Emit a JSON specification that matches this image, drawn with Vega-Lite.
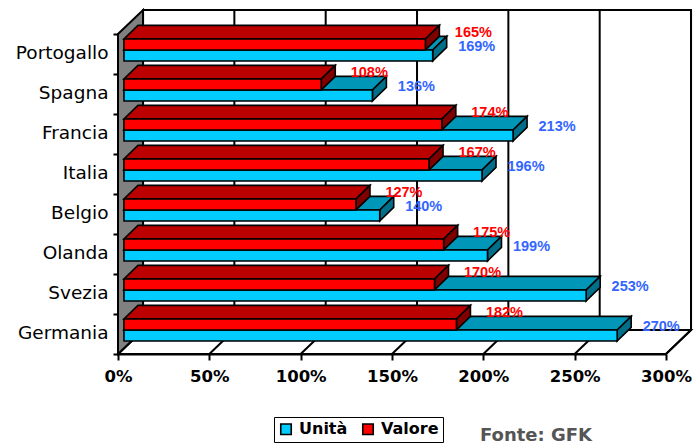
{"$schema":"https://vega.github.io/schema/vega-lite/v6.json","width":548,"height":320,"autosize":{"type":"none"},"padding":{"left":118,"top":34,"right":30,"bottom":91},"background":"white",
"title":{"text":"Fonte: GFK","orient":"bottom","anchor":"start","frame":"group","font":"DejaVu Sans","fontWeight":"bold","fontSize":18,"color":"#555555","dx":362,"dy":-16,"offset":0},
"datasets":{"bars":[
{"Paese":"Portogallo","Serie":"Unità","Valore":169},{"Paese":"Portogallo","Serie":"Valore","Valore":165},
{"Paese":"Spagna","Serie":"Unità","Valore":136},{"Paese":"Spagna","Serie":"Valore","Valore":108},
{"Paese":"Francia","Serie":"Unità","Valore":213},{"Paese":"Francia","Serie":"Valore","Valore":174},
{"Paese":"Italia","Serie":"Unità","Valore":196},{"Paese":"Italia","Serie":"Valore","Valore":167},
{"Paese":"Belgio","Serie":"Unità","Valore":140},{"Paese":"Belgio","Serie":"Valore","Valore":127},
{"Paese":"Olanda","Serie":"Unità","Valore":199},{"Paese":"Olanda","Serie":"Valore","Valore":175},
{"Paese":"Svezia","Serie":"Unità","Valore":253},{"Paese":"Svezia","Serie":"Valore","Valore":170},
{"Paese":"Germania","Serie":"Unità","Valore":270},{"Paese":"Germania","Serie":"Valore","Valore":182}],
"ticks":[{"v":0},{"v":50},{"v":100},{"v":150},{"v":200},{"v":250},{"v":300}],
"depth":[{"t":0},{"t":1}]},
"resolve":{"scale":{"y":"independent"},"axis":{"x":"independent","y":"independent"}},
"layer":[
{"data":{"name":"bars"},"transform":[{"filter":"datum.Serie=='Unità'"}],"mark":{"type":"bar","opacity":0},
"encoding":{"y":{"field":"Paese","type":"nominal","title":null,"scale":{"type":"band","paddingInner":0,"paddingOuter":0,"domain":["Portogallo","Spagna","Francia","Italia","Belgio","Olanda","Svezia","Germania"]},"axis":{"tickBand":"extent","domainColor":"black","domainWidth":2,"tickColor":"black","tickWidth":2,"tickSize":5,"labelPadding":5,"labelFont":"DejaVu Sans","labelFontSize":18.5,"labelColor":"black","labelOffset":-2,"grid":false}},
"x":{"field":"Valore","type":"quantitative","title":null,"scale":{"domain":[0,300],"nice":false,"zero":false},"axis":{"values":[0,50,100,150,200,250,300],"labelExpr":"datum.value+'%'","domainColor":"black","domainWidth":2,"tickColor":"black","tickWidth":2,"tickSize":6,"labelPadding":8,"labelFont":"DejaVu Sans","labelFontWeight":"bold","labelFontSize":16.5,"labelColor":"black","grid":false,"labelFlush":false,"labelOverlap":false}}}},
{"mark":{"type":"rect","fill":"white","stroke":"black","strokeWidth":2},"data":{"name":"depth"},"transform":[{"filter":"datum.t==0"}],
"encoding":{"x":{"datum":13.7,"axis":null},"x2":{"datum":313.7},"y":{"datum":0.6,"scale":{"domain":[0,8],"nice":false,"zero":false},"axis":null},"y2":{"datum":8.6}}},
{"data":{"name":"depth"},"transform":[{"calculate":"datum.t*13.7","as":"xa"},{"calculate":"300+datum.t*13.7","as":"xb"},{"calculate":"datum.t*0.6","as":"ya"}],"mark":{"type":"area","orient":"horizontal","fill":"white","stroke":"black","strokeWidth":2},
"encoding":{"x":{"field":"xa","type":"quantitative","axis":null},"x2":{"field":"xb"},"y":{"field":"ya","type":"quantitative","scale":{"domain":[0,8],"nice":false,"zero":false},"axis":null}}},
{"data":{"name":"ticks"},"transform":[{"calculate":"datum.v+13.7","as":"xb"}],"mark":{"type":"rule","color":"black","strokeWidth":2},
"encoding":{"x":{"field":"xb","type":"quantitative","axis":null},"y":{"datum":0.6,"scale":{"domain":[0,8],"nice":false,"zero":false},"axis":null},"y2":{"datum":8.6}}},
{"data":{"name":"ticks"},"transform":[{"calculate":"datum.v+13.7","as":"xb"}],"mark":{"type":"rule","color":"black","strokeWidth":2},
"encoding":{"x":{"field":"v","type":"quantitative","axis":null},"x2":{"field":"xb"},"y":{"datum":0,"scale":{"domain":[0,8],"nice":false,"zero":false},"axis":null},"y2":{"datum":0.6}}},
{"data":{"name":"depth"},"transform":[{"calculate":"datum.t*13.7","as":"xa"},{"calculate":"datum.t*0.6","as":"ya"},{"calculate":"8+datum.t*0.6","as":"yb"}],"mark":{"type":"area","orient":"vertical","fill":"#808080","stroke":"black","strokeWidth":2},
"encoding":{"x":{"field":"xa","type":"quantitative","axis":null},"y":{"field":"ya","type":"quantitative","scale":{"domain":[0,8],"nice":false,"zero":false},"axis":null},"y2":{"field":"yb"}}},

{"data":{"name":"bars"},"transform":[{"filter":"datum.Serie=='Unità'"},{"calculate":"indexof(['Germania','Svezia','Olanda','Belgio','Italia','Francia','Spagna','Portogallo'],datum.Paese)","as":"i"},{"calculate":"[0,1]","as":"t"},{"flatten":["t"]},{"calculate":"3.28+datum.t*7.66","as":"xa"},{"calculate":"datum.Valore+3.28+datum.t*7.66","as":"xb"},{"calculate":"datum.i+0.6+datum.t*0.34","as":"ya"}],"mark":{"type":"area","orient":"horizontal","fill":"#0096B8","stroke":"black","strokeWidth":1.6},
"encoding":{"detail":{"field":"Paese"},"x":{"field":"xa","type":"quantitative","axis":null},"x2":{"field":"xb"},"y":{"field":"ya","type":"quantitative","scale":{"domain":[0,8],"nice":false,"zero":false},"axis":null}}},
{"data":{"name":"bars"},"transform":[{"filter":"datum.Serie=='Unità'"},{"calculate":"indexof(['Germania','Svezia','Olanda','Belgio','Italia','Francia','Spagna','Portogallo'],datum.Paese)","as":"i"},{"calculate":"[0,1]","as":"t"},{"flatten":["t"]},{"calculate":"datum.Valore+3.28+datum.t*7.66","as":"xa"},{"calculate":"datum.i+0.325+datum.t*0.34","as":"ya"},{"calculate":"datum.i+0.6+datum.t*0.34","as":"yb"}],"mark":{"type":"area","orient":"vertical","fill":"#006F8A","stroke":"black","strokeWidth":1.6},
"encoding":{"detail":{"field":"Paese"},"x":{"field":"xa","type":"quantitative","axis":null},"y":{"field":"ya","type":"quantitative","scale":{"domain":[0,8],"nice":false,"zero":false},"axis":null},"y2":{"field":"yb"}}},
{"data":{"name":"bars"},"transform":[{"filter":"datum.Serie=='Valore'"},{"calculate":"indexof(['Germania','Svezia','Olanda','Belgio','Italia','Francia','Spagna','Portogallo'],datum.Paese)","as":"i"},{"calculate":"[0,1]","as":"t"},{"flatten":["t"]},{"calculate":"3.28+datum.t*7.66","as":"xa"},{"calculate":"datum.Valore+3.28+datum.t*7.66","as":"xb"},{"calculate":"datum.i+0.875+datum.t*0.34","as":"ya"}],"mark":{"type":"area","orient":"horizontal","fill":"#BB0000","stroke":"black","strokeWidth":1.6},
"encoding":{"detail":{"field":"Paese"},"x":{"field":"xa","type":"quantitative","axis":null},"x2":{"field":"xb"},"y":{"field":"ya","type":"quantitative","scale":{"domain":[0,8],"nice":false,"zero":false},"axis":null}}},
{"data":{"name":"bars"},"transform":[{"filter":"datum.Serie=='Valore'"},{"calculate":"indexof(['Germania','Svezia','Olanda','Belgio','Italia','Francia','Spagna','Portogallo'],datum.Paese)","as":"i"},{"calculate":"[0,1]","as":"t"},{"flatten":["t"]},{"calculate":"datum.Valore+3.28+datum.t*7.66","as":"xa"},{"calculate":"datum.i+0.6+datum.t*0.34","as":"ya"},{"calculate":"datum.i+0.875+datum.t*0.34","as":"yb"}],"mark":{"type":"area","orient":"vertical","fill":"#800000","stroke":"black","strokeWidth":1.6},
"encoding":{"detail":{"field":"Paese"},"x":{"field":"xa","type":"quantitative","axis":null},"y":{"field":"ya","type":"quantitative","scale":{"domain":[0,8],"nice":false,"zero":false},"axis":null},"y2":{"field":"yb"}}},

{"data":{"name":"bars"},"transform":[{"calculate":"indexof(['Germania','Svezia','Olanda','Belgio','Italia','Francia','Spagna','Portogallo'],datum.Paese)","as":"i"},{"calculate":"3.28","as":"xa"},{"calculate":"datum.Valore+3.28","as":"xb"},{"calculate":"datum.i+(datum.Serie=='Valore'?0.6:0.325)","as":"ya"},{"calculate":"datum.i+(datum.Serie=='Valore'?0.875:0.6)","as":"yb"}],"mark":{"type":"rect","stroke":"black","strokeWidth":1.6},
"encoding":{"x":{"field":"xa","type":"quantitative","axis":null},"x2":{"field":"xb"},"y":{"field":"ya","type":"quantitative","scale":{"domain":[0,8],"nice":false,"zero":false},"axis":null},"y2":{"field":"yb"},
"fill":{"field":"Serie","type":"nominal","scale":{"domain":["Unità","Valore"],"range":["#00CCFF","#FF0000"]},"legend":{"title":null,"orient":"none","legendX":156,"legendY":383,"direction":"horizontal","columns":2,"symbolType":"square","symbolSize":110,"symbolStrokeColor":"black","symbolStrokeWidth":1.6,"symbolOpacity":1,"labelFont":"DejaVu Sans","labelFontWeight":"bold","labelFontSize":16,"labelColor":"black","strokeColor":"black","fillColor":"white","padding":4,"columnPadding":11,"labelOffset":5,"cornerRadius":0}}}},

{"data":{"name":"bars"},"transform":[{"filter":"datum.Serie=='Valore'"},{"calculate":"indexof(['Germania','Svezia','Olanda','Belgio','Italia','Francia','Spagna','Portogallo'],datum.Paese)","as":"i"},{"calculate":"datum.Valore+3.28","as":"xb"},{"calculate":"datum.i+0.875","as":"ya"},{"calculate":"datum.Valore+'%'","as":"etichetta"}],"mark":{"type":"text","font":"Liberation Sans","fontWeight":"bold","fontSize":14.5,"color":"#FF0000","align":"center","baseline":"middle","dx":48,"dy":-6},
"encoding":{"x":{"field":"xb","type":"quantitative","axis":null},"y":{"field":"ya","type":"quantitative","scale":{"domain":[0,8],"nice":false,"zero":false},"axis":null},"text":{"field":"etichetta"}}},
{"data":{"name":"bars"},"transform":[{"filter":"datum.Serie=='Unità'"},{"calculate":"indexof(['Germania','Svezia','Olanda','Belgio','Italia','Francia','Spagna','Portogallo'],datum.Paese)","as":"i"},{"calculate":"datum.Valore+3.28","as":"xb"},{"calculate":"datum.i+0.6","as":"ya"},{"calculate":"datum.Valore+'%'","as":"etichetta"}],"mark":{"type":"text","font":"Liberation Sans","fontWeight":"bold","fontSize":14.5,"color":"#3366FF","align":"center","baseline":"middle","dx":44,"dy":-3},
"encoding":{"x":{"field":"xb","type":"quantitative","axis":null},"y":{"field":"ya","type":"quantitative","scale":{"domain":[0,8],"nice":false,"zero":false},"axis":null},"text":{"field":"etichetta"}}}
]}
